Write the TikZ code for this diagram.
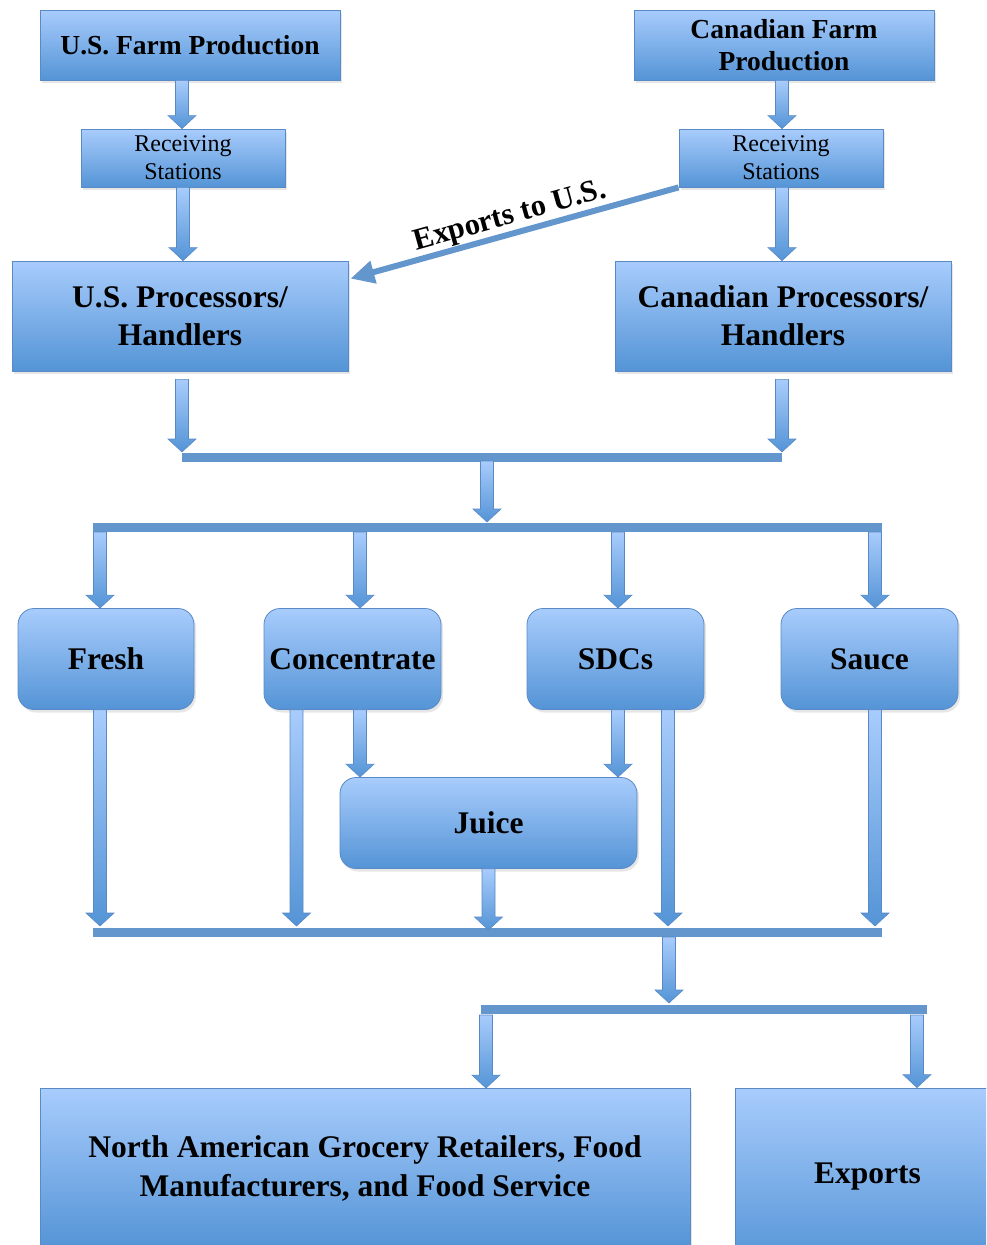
\documentclass[tikz,border=0pt]{standalone}
\usepackage{fontspec}
\setmainfont{Liberation Serif}
\usetikzlibrary{calc, positioning}
\usetikzlibrary{shadows}
\usetikzlibrary{arrows.meta}

\definecolor{boxtop}{RGB}{168,204,252}
\definecolor{boxbot}{RGB}{84,148,214}
\definecolor{boxedge}{RGB}{90,138,198}
\definecolor{barblue}{RGB}{98,150,204}

\tikzset{
  flowbox/.style={rectangle, draw=boxedge, line width=0.8pt,
    top color=boxtop, bottom color=boxbot, align=center, inner sep=0pt,
    drop shadow={opacity=0.2, shadow xshift=2pt, shadow yshift=-3pt}},
  roundbox/.style={flowbox, rounded corners=16pt},
  blockarrow/.style={draw=boxedge, line width=0.6pt,
    top color=boxtop, bottom color=boxbot,
    to path={let \p1=(\tikztostart), \p2=(\tikztotarget) in
      (\x1-6.5pt,\y1) -- (\x1+6.5pt,\y1) -- (\x1+6.5pt,\y2+13pt)
      -- (\x1+14pt,\y2+13pt) -- (\x1,\y2) -- (\x1-14pt,\y2+13pt)
      -- (\x1-6.5pt,\y2+13pt) -- cycle}},
  splitbar/.style={draw=barblue, line width=9pt},
}

\begin{document}
\begin{tikzpicture}[x=1pt,y=-1pt]
\useasboundingbox (0,0) rectangle (986,1245);
\clip (0,0) rectangle (986,1245);

% sources
\node[flowbox, minimum width=300pt, minimum height=70pt,
      font=\bfseries\fontsize{27.5}{32}\selectfont] (usfarm) at (190,45) {U.S. Farm Production};
\node[flowbox, minimum width=300pt, minimum height=70pt,
      font=\bfseries\fontsize{27.5}{32}\selectfont] (cafarm) at (784,45) {Canadian Farm\\Production};
\node[flowbox, minimum width=204pt, minimum height=58pt,
      font=\fontsize{24}{28}\selectfont] (usrecv) at (183,158) {Receiving\\Stations};
\node[flowbox, minimum width=204pt, minimum height=58pt,
      font=\fontsize{24}{28}\selectfont] (carecv) at (781,158) {Receiving\\Stations};
\node[flowbox, minimum width=336pt, minimum height=110pt,
      font=\bfseries\fontsize{31.5}{38}\selectfont] (usproc) at (180,316) {U.S. Processors/\\Handlers};
\node[flowbox, minimum width=336pt, minimum height=110pt,
      font=\bfseries\fontsize{31.5}{38}\selectfont] (caproc) at (783,316) {Canadian Processors/\\Handlers};

% products
\node[roundbox, minimum width=176pt, minimum height=101pt,
      font=\bfseries\fontsize{31.5}{36}\selectfont] (fresh) at (106,659) {Fresh};
\node[roundbox, minimum width=177pt, minimum height=101pt,
      font=\bfseries\fontsize{31.5}{36}\selectfont] (conc) at (352.5,659) {Concentrate};
\node[roundbox, minimum width=177pt, minimum height=101pt,
      font=\bfseries\fontsize{31.5}{36}\selectfont] (sdcs) at (615.5,659) {SDCs};
\node[roundbox, minimum width=177pt, minimum height=101pt,
      font=\bfseries\fontsize{31.5}{36}\selectfont] (sauce) at (869.5,659) {Sauce};
\node[roundbox, minimum width=297pt, minimum height=91pt,
      font=\bfseries\fontsize{31.5}{36}\selectfont] (juice) at (488.5,823) {Juice};

% outlets
\node[flowbox, minimum width=650pt, minimum height=159pt,
      font=\bfseries\fontsize{31.5}{39}\selectfont] (grocery) at (365,1168)
      {North American Grocery Retailers, Food\\Manufacturers, and Food Service};
\node[flowbox, minimum width=265pt, minimum height=178pt,
      font=\bfseries\fontsize{31.5}{36}\selectfont] (exports) at (867.5,1177) {Exports};

% bars
\coordinate (b1l) at (182,457);
\coordinate (b1r) at (782,457);
\coordinate (b1m) at (487,457);
\coordinate (b2l) at (93,527);
\coordinate (b2r) at (882,527);
\coordinate (b2m) at (487,527);
\coordinate (b2a) at (100,527);
\coordinate (b2b) at (360,527);
\coordinate (b2c) at (618,527);
\coordinate (b2d) at (875,527);
\coordinate (b3l) at (93,932);
\coordinate (b3r) at (882,932);
\coordinate (b3m) at (669,932);
\coordinate (b4l) at (481,1009);
\coordinate (b4r) at (927,1009);
\coordinate (b4a) at (486,1009);
\coordinate (b4b) at (917,1009);

\draw[splitbar] (b1l) -- (b1r);
\draw[splitbar] (b2l) -- (b2r);
\draw[splitbar] (b3l) -- (b3r);
\draw[splitbar] (b4l) -- (b4r);

% arrows
\draw[blockarrow] ([xshift=-8pt]usfarm.south) to (usrecv.north);
\draw[blockarrow] (usrecv.south) to (usproc.north);
\draw[blockarrow] ([xshift=-2pt]cafarm.south) to (carecv.north);
\draw[blockarrow] ([xshift=1pt]carecv.south) to (caproc.north);
\draw[blockarrow] ([xshift=2pt,yshift=-8pt]usproc.south) to ([yshift=5pt]b1l);
\draw[blockarrow] ([xshift=-1pt,yshift=-8pt]caproc.south) to ([yshift=5pt]b1r);
\draw[blockarrow] ([yshift=-4pt]b1m) to ([yshift=5pt]b2m);
\draw[blockarrow] ([yshift=-5pt]b2a) to (fresh.north);
\draw[blockarrow] ([yshift=-5pt]b2b) to (conc.north);
\draw[blockarrow] ([yshift=-5pt]b2c) to (sdcs.north);
\draw[blockarrow] ([yshift=-5pt]b2d) to (sauce.north);
\draw[blockarrow] ([xshift=-6pt]fresh.south) to ([yshift=6pt]b3l);
\draw[blockarrow] ([xshift=-56pt]conc.south) to ([yshift=6pt]b3l);
\draw[blockarrow] ([xshift=7.5pt]conc.south) to (juice.north);
\draw[blockarrow] ([xshift=2.5pt]sdcs.south) to (juice.north);
\draw[blockarrow] ([xshift=52.5pt]sdcs.south) to ([yshift=6pt]b3l);
\draw[blockarrow] ([xshift=5.5pt]sauce.south) to ([yshift=6pt]b3l);
\draw[blockarrow] (juice.south) to ([yshift=2pt]b3m);
\draw[blockarrow] ([yshift=-5pt]b3m) to ([yshift=6pt]b4l);
\draw[blockarrow] ([yshift=-6pt]b4a) to (grocery.north);
\draw[blockarrow] ([yshift=-6pt]b4b) to (exports.north);

\draw[barblue, line width=6pt, -{Triangle[length=24pt, width=22pt]}]
  (carecv.south west) -- ([xshift=2pt,yshift=-18pt]usproc.north east)
  node[midway, sloped, above=0pt, inner sep=0pt, text=black,
       font=\bfseries\fontsize{30.5}{36}\selectfont] (explabel) {Exports to U.S.};
\end{tikzpicture}
\end{document}
